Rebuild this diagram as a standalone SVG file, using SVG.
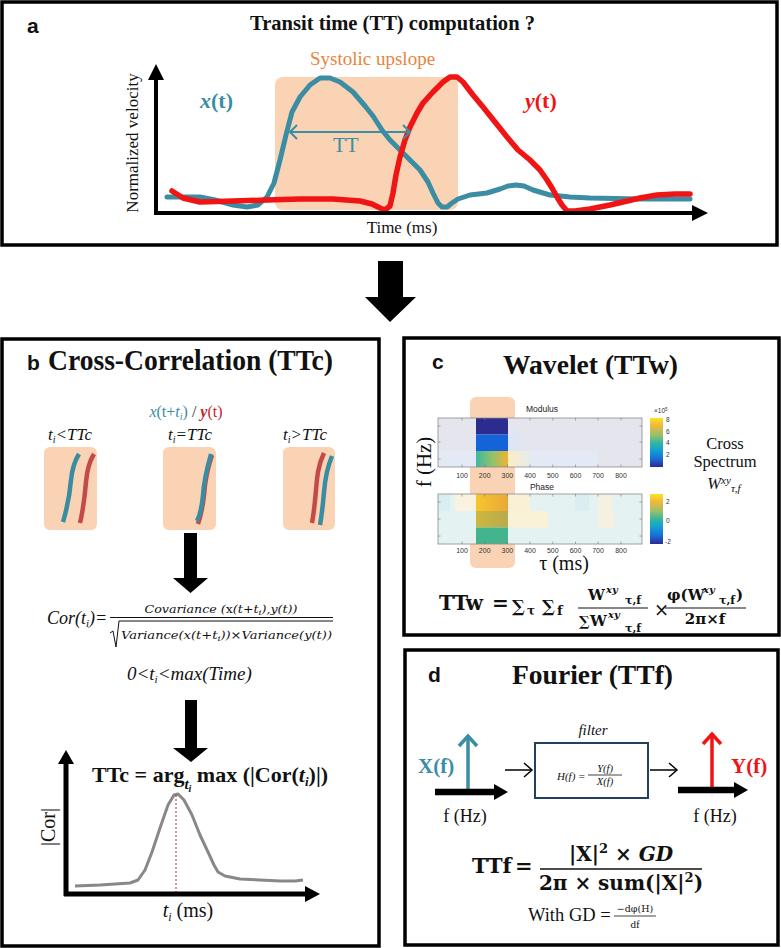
<svg xmlns="http://www.w3.org/2000/svg" width="781" height="948" viewBox="0 0 781 948">
<defs>
<style>
.panel{fill:#fff;stroke:#000;stroke-width:3.5}
.serif{font-family:"Liberation Serif","Times New Roman",serif}
.sans{font-family:"Liberation Sans",Arial,sans-serif}
.math{font-family:"DejaVu Serif","Liberation Serif",serif}
.lbl{font-family:"Liberation Sans",Arial,sans-serif;font-weight:bold;font-size:21px;fill:#111}
.title{font-family:"Liberation Serif","Times New Roman",serif;font-weight:bold;fill:#111}
.peach{fill:#f9d3b4}
.tick{font-family:"Liberation Sans",Arial,sans-serif;font-size:7px;fill:#333;text-anchor:middle}
.cbt{font-family:"Liberation Sans",Arial,sans-serif;font-size:6.5px;fill:#333}
.tm{stroke:#777;stroke-width:0.6}
.frame{fill:none;stroke:#8a8a8a;stroke-width:0.8}
</style>
<linearGradient id="mod3" x1="0" y1="0" x2="1" y2="0">
<stop offset="0" stop-color="#3cb8a0"/><stop offset="0.5" stop-color="#8fc26c"/><stop offset="1" stop-color="#f2b230"/>
</linearGradient>
<linearGradient id="fadeY" x1="0" y1="0" x2="1" y2="0">
<stop offset="0" stop-color="#fbeec4"/><stop offset="1" stop-color="#fbeec4" stop-opacity="0"/>
</linearGradient>
<linearGradient id="ph1" x1="0" y1="0" x2="1" y2="0">
<stop offset="0" stop-color="#f6c62c"/><stop offset="1" stop-color="#e9a83a"/>
</linearGradient>
<linearGradient id="ph2" x1="0" y1="0" x2="1" y2="0">
<stop offset="0" stop-color="#cdb83e"/><stop offset="1" stop-color="#b9aa4e"/>
</linearGradient>
<linearGradient id="parula" x1="0" y1="0" x2="0" y2="1">
<stop offset="0" stop-color="#f9e41f"/><stop offset="0.15" stop-color="#f3b83a"/><stop offset="0.35" stop-color="#98bf6a"/><stop offset="0.5" stop-color="#35b79f"/><stop offset="0.65" stop-color="#12a2d0"/><stop offset="0.82" stop-color="#1970db"/><stop offset="1" stop-color="#2c2c8f"/>
</linearGradient>
</defs>
<rect x="0" y="0" width="781" height="948" fill="#fff"/>

<g id="panel-a">
<rect class="panel" x="2" y="2" width="775" height="243"/>
<text class="lbl" x="27" y="33">a</text>
<text class="title" x="250" y="30" font-size="20" textLength="285" lengthAdjust="spacingAndGlyphs">Transit time (TT) computation ?</text>
<rect class="peach" x="275" y="77" width="183" height="133" rx="8"/>
<text class="serif" x="310" y="65" font-size="19" fill="#e8843e">Systolic upslope</text>
<text class="serif" transform="translate(138,143) rotate(-90)" text-anchor="middle" font-size="17" fill="#111">Normalized velocity</text>
<text class="serif" x="402" y="233" text-anchor="middle" font-size="17" fill="#111">Time (ms)</text>
<text class="serif" x="200" y="108" font-size="22" font-weight="bold" fill="#3a8da3"><tspan font-style="italic">x</tspan>(t)</text>
<text class="serif" x="525" y="108" font-size="22" font-weight="bold" fill="#f01414"><tspan font-style="italic">y</tspan>(t)</text>
<polyline fill="none" stroke="#3a8da3" stroke-width="5" stroke-linejoin="round" stroke-linecap="round" points="167,197 185,197 200,197 215,200 233,205 247,207 258,205 267,197 274,183 280,160 286,135 292,112 300,97 310,85 320,78 330,78 340,82 353,92 365,106 373,116 382,130 390,140 400,150 410,160 420,170 428,182 433,193 438,203 442,207 447,207 452,203 458,199 470,195 487,193 500,189 508,186 516,185 524,186 533,190 550,195 570,197 590,198 640,199 690,199"/>
<polyline fill="none" stroke="#f01414" stroke-width="5.5" stroke-linejoin="round" stroke-linecap="round" points="172,191 183,198 200,202 233,201 267,200 300,199 333,199 360,201 372,204 380,208 385,210 390,206 393,193 396,175 400,157 405,140 410,127 417,113 423,103 433,92 443,82 450,77 457,77 463,82 473,95 483,107 495,122 507,137 518,150 530,160 540,170 547,180 552,188 557,197 562,205 567,211 575,211 590,209 610,205 623,202 640,198 657,195 675,194 690,194"/>
<line x1="290" y1="132" x2="410" y2="132" stroke="#3a8da3" stroke-width="2"/>
<polyline points="297,125 290,132 297,139" fill="none" stroke="#3a8da3" stroke-width="2"/>
<polyline points="403,125 410,132 403,139" fill="none" stroke="#3a8da3" stroke-width="2"/>
<text class="serif" x="333" y="152" font-size="21" fill="#3a8da3">TT</text>
<line x1="156" y1="78" x2="156" y2="215" stroke="#000" stroke-width="4"/>
<polygon points="148,80 156,64 164,80" fill="#000"/>
<line x1="154" y1="213" x2="695" y2="213" stroke="#000" stroke-width="4"/>
<polygon points="692,205 708,213 692,221" fill="#000"/>
</g>

<g id="panel-b">
<rect class="panel" x="2" y="339" width="377" height="607"/>
<text class="lbl" x="27" y="370">b</text>
<text class="title" x="48" y="370" font-size="29" textLength="285" lengthAdjust="spacingAndGlyphs">Cross-Correlation (TTc)</text>
<text class="serif" x="186" y="417" text-anchor="middle" font-size="16"><tspan fill="#3a8da3" font-style="italic">x</tspan><tspan fill="#3a8da3">(t+</tspan><tspan fill="#3a8da3" font-style="italic">t</tspan><tspan fill="#3a8da3" font-style="italic" font-size="10" dy="3">i</tspan><tspan fill="#3a8da3" dy="-3">)</tspan><tspan fill="#333"> / </tspan><tspan fill="#c0282a" font-style="italic" font-weight="bold">y</tspan><tspan fill="#c0282a">(t)</tspan></text>
<text class="serif" x="70" y="440" text-anchor="middle" font-size="17" font-style="italic" fill="#111">t<tspan font-size="10" dy="3">i</tspan><tspan dy="-3">&lt;TTc</tspan></text>
<text class="serif" x="190" y="440" text-anchor="middle" font-size="17" font-style="italic" fill="#111">t<tspan font-size="10" dy="3">i</tspan><tspan dy="-3">=TTc</tspan></text>
<text class="serif" x="305" y="440" text-anchor="middle" font-size="17" font-style="italic" fill="#111">t<tspan font-size="10" dy="3">i</tspan><tspan dy="-3">&gt;TTc</tspan></text>
<rect class="peach" x="44" y="447" width="53" height="83" rx="6"/>
<rect class="peach" x="163" y="447" width="53" height="83" rx="6"/>
<rect class="peach" x="283" y="447" width="52" height="83" rx="6"/>
<g fill="none" stroke-width="4.5">
<path d="M79,454 C74,462 72,470 71,480 C70,492 68,505 63,522" stroke="#3a8ca3"/>
<path d="M94,454 C89,462 87,470 86,482 C85,494 84,506 80,523" stroke="#c44a4a"/>
<path d="M212,455 C207,470 205,480 204,495 C203,505 201,515 198,524" stroke="#c44a4a"/>
<path d="M211,454 C207,468 204,480 203,495 C202,506 200,515 197,521" stroke="#3a8ca3"/>
<path d="M324,453 C318,465 317,478 316,490 C315,502 314,512 312,523" stroke="#c44a4a"/>
<path d="M332,456 C327,468 325,480 324,492 C323,504 322,514 320,525" stroke="#3a8ca3"/>
</g>
<text class="serif" x="47" y="624" font-size="18" font-style="italic" fill="#111">Cor(t<tspan font-size="11" dy="3">i</tspan><tspan dy="-3">)=</tspan></text>
<text class="math" x="221" y="613" font-size="11" font-style="italic" text-anchor="middle" textLength="153" lengthAdjust="spacingAndGlyphs" fill="#111">Covariance (<tspan font-style="normal">x</tspan>(t+t<tspan font-size="8" dy="2">i</tspan><tspan dy="-2">),y(t))</tspan></text>
<line x1="110" y1="617.5" x2="333" y2="617.5" stroke="#111" stroke-width="1"/>
<polyline points="110,633 113,631 116,647 119,621 333,621" fill="none" stroke="#111" stroke-width="1"/>
<text class="math" x="121" y="639" font-size="11" font-style="italic" textLength="211" lengthAdjust="spacingAndGlyphs" fill="#111">Variance(x(t+t<tspan font-size="8" dy="2">i</tspan><tspan dy="-2">))×Variance(y(t))</tspan></text>
<text class="serif" x="127" y="680" font-size="19" font-style="italic" fill="#111">0&lt;t<tspan font-size="11" dy="3">i</tspan><tspan dy="-3">&lt;max(Time)</tspan></text>
<text class="serif" x="92" y="782" font-size="22" font-weight="bold" fill="#111">TTc = arg<tspan font-size="15" font-style="italic" dy="7">t</tspan><tspan font-size="10" font-style="italic" dy="3">i</tspan><tspan dy="-10"> max (|Cor(</tspan><tspan font-style="italic">t</tspan><tspan font-size="13" font-style="italic" dy="4">i</tspan><tspan dy="-4">)|)</tspan></text>
<path d="M75,886 L100,885 L130,883 L138,880 L145,870 L152,852 L160,828 L168,805 L174,795 L178,794 L184,800 L192,815 L200,835 L208,852 L214,865 L218,872 L225,876 L240,879 L260,880 L280,881 L295,881 L303,880" fill="none" stroke="#888" stroke-width="3" stroke-linejoin="round"/>
<line x1="176" y1="795" x2="176" y2="893" stroke="#a03030" stroke-width="1" stroke-dasharray="2,2"/>
<line x1="66" y1="762" x2="66" y2="896" stroke="#000" stroke-width="5"/>
<polygon points="58,764 66,750 74,764" fill="#000"/>
<line x1="64" y1="894" x2="308" y2="894" stroke="#000" stroke-width="5"/>
<polygon points="305,886 320,894 305,902" fill="#000"/>
<text class="serif" transform="translate(55,827) rotate(-90)" text-anchor="middle" font-size="20" fill="#111">|Cor|</text>
<text class="serif" x="188" y="917" text-anchor="middle" font-size="20" fill="#111"><tspan font-style="italic">t</tspan><tspan font-style="italic" font-size="12" dy="4">i</tspan><tspan dy="-4"> (ms)</tspan></text>
</g>

<g id="panel-c">
<rect class="panel" x="404" y="338" width="375" height="297"/>
<text class="lbl" x="432" y="369">c</text>
<text class="title" x="503" y="374" font-size="27" textLength="175" lengthAdjust="spacingAndGlyphs">Wavelet (TTw)</text>
<rect class="peach" x="470" y="397" width="45" height="171" rx="6"/>
<text class="sans" x="542" y="412" text-anchor="middle" font-size="8.5" fill="#222">Modulus</text>
<rect x="438" y="418" width="204" height="49" fill="#e5e5ed"/>
<rect x="438" y="451" width="160" height="16" fill="#e3eaf5"/>
<rect x="508" y="451" width="26" height="16" fill="url(#fadeY)"/>
<rect x="508" y="434" width="14" height="17" fill="#dfe6f3"/>
<rect x="476" y="418" width="32" height="16.5" fill="#2c2b8f"/>
<rect x="476" y="434.5" width="32" height="16.5" fill="#1463d8"/>
<rect x="476" y="451" width="32" height="16" fill="url(#mod3)"/>
<rect x="438" y="418" width="204" height="49" class="frame"/>
<g class="tm">
<line x1="462" y1="418" x2="462" y2="420.5"/><line x1="484.7" y1="418" x2="484.7" y2="420.5"/><line x1="507.4" y1="418" x2="507.4" y2="420.5"/><line x1="530" y1="418" x2="530" y2="420.5"/><line x1="552.8" y1="418" x2="552.8" y2="420.5"/><line x1="575.5" y1="418" x2="575.5" y2="420.5"/><line x1="598" y1="418" x2="598" y2="420.5"/><line x1="621" y1="418" x2="621" y2="420.5"/>
<line x1="462" y1="467" x2="462" y2="464.5"/><line x1="484.7" y1="467" x2="484.7" y2="464.5"/><line x1="507.4" y1="467" x2="507.4" y2="464.5"/><line x1="530" y1="467" x2="530" y2="464.5"/><line x1="552.8" y1="467" x2="552.8" y2="464.5"/><line x1="575.5" y1="467" x2="575.5" y2="464.5"/><line x1="598" y1="467" x2="598" y2="464.5"/><line x1="621" y1="467" x2="621" y2="464.5"/>
<line x1="438" y1="426" x2="440.5" y2="426"/><line x1="438" y1="442" x2="440.5" y2="442"/><line x1="438" y1="459" x2="440.5" y2="459"/>
<line x1="642" y1="426" x2="639.5" y2="426"/><line x1="642" y1="442" x2="639.5" y2="442"/><line x1="642" y1="459" x2="639.5" y2="459"/>
</g>
<g class="tick">
<text x="462" y="478">100</text><text x="484.7" y="478">200</text><text x="507.4" y="478">300</text><text x="530" y="478">400</text><text x="552.8" y="478">500</text><text x="575.5" y="478">600</text><text x="598" y="478">700</text><text x="621" y="478">800</text>
</g>
<rect x="650" y="418" width="13" height="49" fill="url(#parula)"/>
<text class="cbt" x="654" y="413" font-size="5.5">×10<tspan font-size="4.5" dy="-2">5</tspan></text>
<g class="cbt"><text x="666" y="422">8</text><text x="666" y="434">6</text><text x="666" y="445">4</text><text x="666" y="457">2</text></g>

<text class="sans" x="542" y="490" text-anchor="middle" font-size="8.5" fill="#222">Phase</text>
<rect x="438" y="494" width="204" height="50" fill="#e4f3f1"/>
<rect x="455" y="494" width="21" height="17" fill="#f8f2de"/>
<rect x="508" y="494" width="22" height="17" fill="#faf0d8"/>
<rect x="508" y="511" width="40" height="16.5" fill="#faf2d6"/>
<rect x="438" y="494" width="12" height="17" fill="#d9eef1"/>
<rect x="575" y="494" width="14" height="17" fill="#dcecf3"/>
<rect x="598" y="494" width="14" height="17" fill="#f6f0e0"/>
<rect x="598" y="511" width="16" height="16.5" fill="#f7f0e0"/>
<rect x="476" y="494" width="32" height="17" fill="url(#ph1)"/>
<rect x="476" y="511" width="32" height="16.5" fill="url(#ph2)"/>
<rect x="476" y="527.5" width="32" height="16.5" fill="#42b48e"/>
<rect x="438" y="494" width="204" height="50" class="frame"/>
<g class="tm">
<line x1="462" y1="494" x2="462" y2="496.5"/><line x1="484.7" y1="494" x2="484.7" y2="496.5"/><line x1="507.4" y1="494" x2="507.4" y2="496.5"/><line x1="530" y1="494" x2="530" y2="496.5"/><line x1="552.8" y1="494" x2="552.8" y2="496.5"/><line x1="575.5" y1="494" x2="575.5" y2="496.5"/><line x1="598" y1="494" x2="598" y2="496.5"/><line x1="621" y1="494" x2="621" y2="496.5"/>
<line x1="462" y1="544" x2="462" y2="541.5"/><line x1="484.7" y1="544" x2="484.7" y2="541.5"/><line x1="507.4" y1="544" x2="507.4" y2="541.5"/><line x1="530" y1="544" x2="530" y2="541.5"/><line x1="552.8" y1="544" x2="552.8" y2="541.5"/><line x1="575.5" y1="544" x2="575.5" y2="541.5"/><line x1="598" y1="544" x2="598" y2="541.5"/><line x1="621" y1="544" x2="621" y2="541.5"/>
<line x1="438" y1="502" x2="440.5" y2="502"/><line x1="438" y1="519" x2="440.5" y2="519"/><line x1="438" y1="536" x2="440.5" y2="536"/>
<line x1="642" y1="502" x2="639.5" y2="502"/><line x1="642" y1="519" x2="639.5" y2="519"/><line x1="642" y1="536" x2="639.5" y2="536"/>
</g>
<g class="tick">
<text x="462" y="553">100</text><text x="484.7" y="553">200</text><text x="507.4" y="553">300</text><text x="530" y="553">400</text><text x="552.8" y="553">500</text><text x="575.5" y="553">600</text><text x="598" y="553">700</text><text x="621" y="553">800</text>
</g>
<rect x="650" y="494" width="13" height="50" fill="url(#parula)"/>
<g class="cbt"><text x="666" y="504">2</text><text x="666" y="523">0</text><text x="665" y="544">-2</text></g>

<text class="serif" transform="translate(431,462) rotate(-90)" text-anchor="middle" font-size="21" fill="#111">f (Hz)</text>
<text class="serif" x="564" y="570" text-anchor="middle" font-size="20" fill="#111">τ (ms)</text>
<g class="serif" font-size="16.5" fill="#111" text-anchor="middle">
<text x="725" y="449">Cross</text>
<text x="725" y="467">Spectrum</text>
<text x="724" y="489" font-style="italic">W<tspan font-size="11" dy="-5">xy</tspan><tspan font-size="11" dy="8">τ,f</tspan></text>
</g>
<g class="math" font-weight="bold" fill="#111">
<text x="439" y="610" font-size="20">TTw</text>
<text x="492" y="610" font-size="20">=</text>
<text x="512" y="612" font-size="17">∑</text>
<text x="527" y="615" font-size="12">τ</text>
<text x="542" y="612" font-size="17">∑</text>
<text x="557" y="615" font-size="13">f</text>
<text x="588" y="600" font-size="15">W</text>
<text x="606" y="593" font-size="10" font-style="italic">xy</text>
<text x="625" y="604" font-size="11">τ,f</text>
<line x1="578" y1="608" x2="648" y2="608" stroke="#111" stroke-width="1.2"/>
<text x="579" y="626" font-size="14">∑</text>
<text x="590" y="626" font-size="15">W</text>
<text x="608" y="618" font-size="10" font-style="italic">xy</text>
<text x="625" y="632" font-size="11">τ,f</text>
<text x="654" y="616" font-size="18" font-weight="normal">×</text>
<text x="667" y="600" font-size="15">φ(W</text>
<text x="703" y="593" font-size="10" font-style="italic">xy</text>
<text x="719" y="604" font-size="11">τ,f</text>
<text x="736" y="600" font-size="15">)</text>
<line x1="665" y1="608" x2="746" y2="608" stroke="#111" stroke-width="1.2"/>
<text x="705" y="624" font-size="15" text-anchor="middle">2π×f</text>
</g>
</g>

<g id="panel-d">
<rect class="panel" x="405" y="650" width="373" height="295"/>
<text class="lbl" x="428" y="682">d</text>
<text class="title" x="512" y="684" font-size="27" textLength="161" lengthAdjust="spacingAndGlyphs">Fourier (TTf)</text>
<text class="serif" x="593" y="735" text-anchor="middle" font-size="15" font-style="italic" fill="#111">filter</text>
<rect x="535" y="743" width="113" height="55" fill="#fff" stroke="#23405e" stroke-width="2"/>
<text class="serif" x="557" y="780" font-size="11" font-style="italic" fill="#111">H(f) =</text>
<text class="serif" x="605" y="772" text-anchor="middle" font-size="10.5" font-style="italic" fill="#111">Y(f)</text>
<line x1="588" y1="775" x2="622" y2="775" stroke="#111" stroke-width="0.8"/>
<text class="serif" x="605" y="785" text-anchor="middle" font-size="10.5" font-style="italic" fill="#111">X(f)</text>
<text class="serif" x="418" y="773" font-size="21" font-weight="bold" fill="#3a8da3">X(f)</text>
<text class="serif" x="731" y="773" font-size="21" font-weight="bold" fill="#f01414">Y(f)</text>
<line x1="468" y1="792" x2="468" y2="738" stroke="#3a8da3" stroke-width="3.5"/>
<polyline points="459,746 468,736 477,746" fill="none" stroke="#3a8da3" stroke-width="3.5"/>
<line x1="712" y1="790" x2="712" y2="736" stroke="#f01414" stroke-width="3.5"/>
<polyline points="703,744 712,734 721,744" fill="none" stroke="#f01414" stroke-width="3.5"/>
<line x1="435" y1="792" x2="496" y2="792" stroke="#000" stroke-width="6.5"/>
<polygon points="494,784 508,792 494,800" fill="#000"/>
<line x1="678" y1="790" x2="736" y2="790" stroke="#000" stroke-width="6.5"/>
<polygon points="734,782 748,790 734,798" fill="#000"/>
<text class="serif" x="465" y="822" text-anchor="middle" font-size="18" fill="#111">f (Hz)</text>
<text class="serif" x="715" y="822" text-anchor="middle" font-size="18" fill="#111">f (Hz)</text>
<g class="math" font-weight="bold" fill="#111">
<text x="472" y="873" font-size="21">TTf</text>
<text x="515" y="873" font-size="21">=</text>
<text x="621" y="861" font-size="20" text-anchor="middle">|X|<tspan font-size="13" dy="-8">2</tspan><tspan dy="8"> × </tspan><tspan font-style="italic">GD</tspan></text>
<line x1="540" y1="869" x2="702" y2="869" stroke="#111" stroke-width="1.5"/>
<text x="621" y="890" font-size="20" text-anchor="middle">2π × sum(|X|<tspan font-size="13" dy="-8">2</tspan><tspan dy="8">)</tspan></text>
</g>
<text class="serif" x="528" y="921" font-size="18.5" fill="#111">With GD =</text>
<text class="math" x="635" y="912" text-anchor="middle" font-size="9.5" fill="#111">−dφ(H)</text>
<line x1="614" y1="916" x2="656" y2="916" stroke="#111" stroke-width="0.8"/>
<text class="serif" x="635" y="928" text-anchor="middle" font-size="11" fill="#111">df</text>
</g>

<g id="connectors">
<polygon points="378,261 403,261 403,297 416,297 390,322 365,297 378,297" fill="#000"/>
<polygon points="184,533 197,533 197,578 208,578 190.5,593 173,578 184,578" fill="#000"/>
<polygon points="185,700 197,700 197,748 208,748 191,762 173,748 185,748" fill="#000"/>
<line x1="505" y1="770" x2="532" y2="770" stroke="#000" stroke-width="1.5"/>
<polyline points="524,763 532,770 524,777" fill="none" stroke="#000" stroke-width="1.5"/>
<line x1="650" y1="770" x2="677" y2="770" stroke="#000" stroke-width="1.5"/>
<polyline points="669,763 677,770 669,777" fill="none" stroke="#000" stroke-width="1.5"/>
</g>
</svg>
